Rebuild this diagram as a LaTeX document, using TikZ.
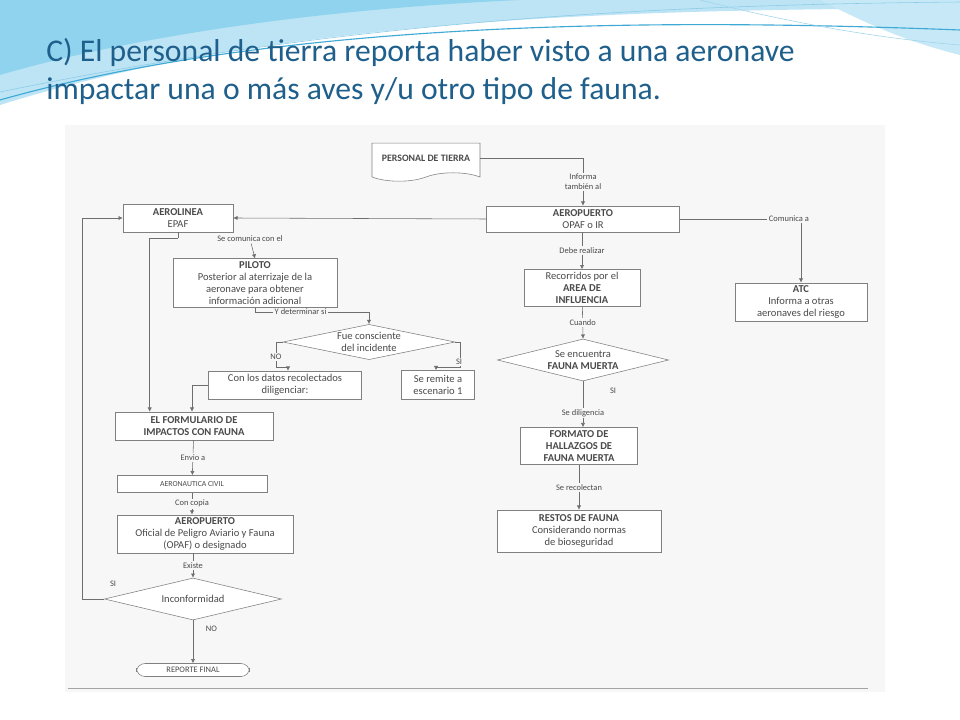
\documentclass[tikz,border=0pt]{standalone}
\usepackage{fontspec}
\setmainfont{Carlito}
\usepackage{tikz}
\usetikzlibrary{positioning,calc,fit,shapes.geometric,shapes.symbols}
\usetikzlibrary{arrows.meta}
\definecolor{titleblue}{HTML}{1F5F8B}
\definecolor{wave}{HTML}{8FD3EE}
\definecolor{wavedark}{HTML}{3FA9D6}
\definecolor{paper}{HTML}{F7F7F7}
\definecolor{ink}{HTML}{4A4A4A}

\tikzset{
  box/.style={draw=ink!70, fill=white, align=center, inner sep=2pt, font=\fontsize{7.5}{8.5}\selectfont, text=ink},
  decision/.style={diamond, aspect=4, draw=ink!70, fill=white, align=center, inner sep=0pt, font=\fontsize{7.5}{8.5}\selectfont, text=ink},
  lbl/.style={fill=paper, inner sep=1pt, font=\fontsize{6}{7}\selectfont, text=ink, align=center},
  flow/.style={draw=ink!80, -{Latex[length=3pt,width=3pt]}},
  line/.style={draw=ink!80}
}

\begin{document}
\begin{tikzpicture}[x=0.025cm, y=-0.025cm]
	\useasboundingbox (0,0) rectangle (960,720);
	\fill[white] (0,0) rectangle (960,720);
	% waves at the top
	\fill[wave!60] (0,0) -- (960,0) -- (960,8) .. controls (700,10) and (300,10) .. (0,105) -- cycle;
	\fill[wave] (0,0) -- (520,0) .. controls (300,10) and (120,40) .. (0,75) -- cycle;
	\fill[wave!50] (820,0) -- (960,0) -- (960,55) .. controls (900,40) and (860,20) .. (820,0) -- cycle;
	\draw[wavedark, thick] (0,100) .. controls (300,15) and (700,20) .. (960,30);
	\draw[wavedark!60] (0,92) .. controls (350,20) and (650,5) .. (960,2);
	\draw[wavedark!50] (700,0) .. controls (820,30) and (900,40) .. (960,45);
	% title
	\node[anchor=north west, align=left, text=titleblue, font=\fontsize{22.5}{27}\selectfont, inner sep=0pt] (title) at (46,38)
	  {C) El personal de tierra reporta haber visto a una aeronave\\impactar una o más aves y/u otro tipo de fauna.};
	% paper
	\fill[paper] (65,125) rectangle (885,692);
	\draw[ink!50] (68,688) -- (868,688);

	% nodes
	\node[box, tape, tape bend top=none, tape bend height=6pt, minimum width=108*0.025cm, minimum height=38*0.025cm, font=\bfseries\fontsize{7}{8}\selectfont] (personal) at (426,158) {PERSONAL DE TIERRA};
	\node[box, minimum width=193*0.025cm, minimum height=26*0.025cm] (aero) at (583,219) {\textbf{AEROPUERTO}\\OPAF o IR};
	\node[box, minimum width=110*0.025cm, minimum height=28*0.025cm] (aerolinea) at (178,218) {\textbf{AEROLINEA}\\EPAF};
	\node[box, minimum width=164*0.025cm, minimum height=47*0.025cm] (piloto) at (255,283) {\textbf{PILOTO}\\Posterior al aterrizaje de la\\aeronave para obtener\\información adicional};
	\node[decision, minimum width=172*0.025cm, minimum height=35*0.025cm] (fue) at (369,342) {Fue consciente\\del incidente};
	\node[box, minimum width=153*0.025cm, minimum height=28*0.025cm] (datos) at (285,385) {Con los datos recolectados\\diligenciar:};
	\node[box, minimum width=73*0.025cm, minimum height=29*0.025cm] (remite) at (438,385) {Se remite a\\escenario 1};
	\node[box, minimum width=158*0.025cm, minimum height=28*0.025cm, font=\bfseries\fontsize{7.5}{8.5}\selectfont] (formulario) at (194,426) {EL FORMULARIO DE\\IMPACTOS CON FAUNA};
	\node[box, minimum width=150*0.025cm, minimum height=17*0.025cm, font=\fontsize{5.5}{7}\selectfont] (civil) at (192,484) {AERONAUTICA CIVIL};
	\node[box, minimum width=176*0.025cm, minimum height=35*0.025cm] (aero2) at (205,534) {\textbf{AEROPUERTO}\\Oficial de Peligro Aviario y Fauna\\(OPAF) o designado};
	\node[decision, minimum width=177*0.025cm, minimum height=42*0.025cm] (inconf) at (193,599) {Inconformidad};
	\node[box, rounded corners=6pt, minimum width=113*0.025cm, minimum height=13*0.025cm, inner sep=1pt, font=\fontsize{6}{7}\selectfont] (reporte) at (193,670) {REPORTE FINAL};
	\node[box, minimum width=116*0.025cm, minimum height=36*0.025cm] (recorridos) at (582,288) {Recorridos por el\\\textbf{AREA DE}\\\textbf{INFLUENCIA}};
	\node[decision, minimum width=171*0.025cm, minimum height=42*0.025cm] (fauna) at (583,360) {Se encuentra\\\textbf{FAUNA MUERTA}};
	\node[box, minimum width=117*0.025cm, minimum height=37*0.025cm, font=\bfseries\fontsize{7.5}{8.5}\selectfont] (formato) at (579,446) {FORMATO DE\\HALLAZGOS DE\\FAUNA MUERTA};
	\node[box, minimum width=164*0.025cm, minimum height=42*0.025cm] (restos) at (579,531) {\textbf{RESTOS DE FAUNA}\\Considerando normas\\de bioseguridad};
	\node[box, minimum width=132*0.025cm, minimum height=37*0.025cm] (atc) at (801,302) {\textbf{ATC}\\Informa a otras\\aeronaves del riesgo};

	% connectors
	\coordinate (split) at ($(aerolinea.south)+(0,6)$);
	\coordinate (loop) at (82,599);
	\path[flow] (personal.east) -| node[lbl, pos=0.75] {Informa\\también al} (aero.north);
	\path[flow] (aero.west) -- (aerolinea.east);
	\path[flow] (aero.east) -| node[lbl, pos=0.45] {Comunica a} (atc.north);
	\path[line] (aerolinea.south) -- (split);
	\path[flow] (split) -| ($(formulario.north west)+(35,0)$);
	\node[lbl] (comunica) at (250,239) {Se comunica con el};
	\path[flow] (comunica) -- (piloto.north);
	\path[flow] (piloto.south) |- node[lbl, pos=0.7] {Y determinar si} ($(fue.north)+(0,-12)$) -- (fue.north);
	\path[flow] (fue.west) -- ++(-6,0) |- ($(datos.north)+(3,-3)$) -- ($(datos.north)+(3,0)$);
	\node[lbl] (no1) at (276,357) {NO};
	\path[flow] (fue.east) -- ++(5,0) |- ($(remite.north)+(-2,-3)$) -- ($(remite.north)+(-2,0)$);
	\node[lbl] (si1) at (459,362) {SI};
	\path[flow] (datos.west) -| ($(formulario.north)+(-2,0)$);
	\path[flow] (formulario) -- node[lbl] {Envio a} (civil);
	\path[flow] (civil) -- node[lbl] {Con copia} (aero2.north -| civil);
	\path[flow] (aero2.south -| inconf) -- node[lbl] {Existe} (inconf.north);
	\path[flow] (inconf) -- node[lbl, pos=0.2, right=8pt, fill=none] {NO} (reporte);
	\path[line] (inconf.west) -- (loop);
	\path[flow] (loop) |- (aerolinea.west);
	\node[lbl, fill=none] (si2) at (113,584) {SI};
	\path[flow] (aero.south -| recorridos) -- node[lbl] {Debe realizar} (recorridos);
	\path[flow] (recorridos) -- node[lbl] {Cuando} (fauna.north);
	\path[flow] (fauna.south) -- node[lbl, pos=0.7] {Se diligencia} (formato.north -| fauna.south);
	\node[lbl, fill=none] (si3) at (613,391) {SI};
	\path[flow] (formato) -- node[lbl] {Se recolectan} (restos);
\end{tikzpicture}
\end{document}
